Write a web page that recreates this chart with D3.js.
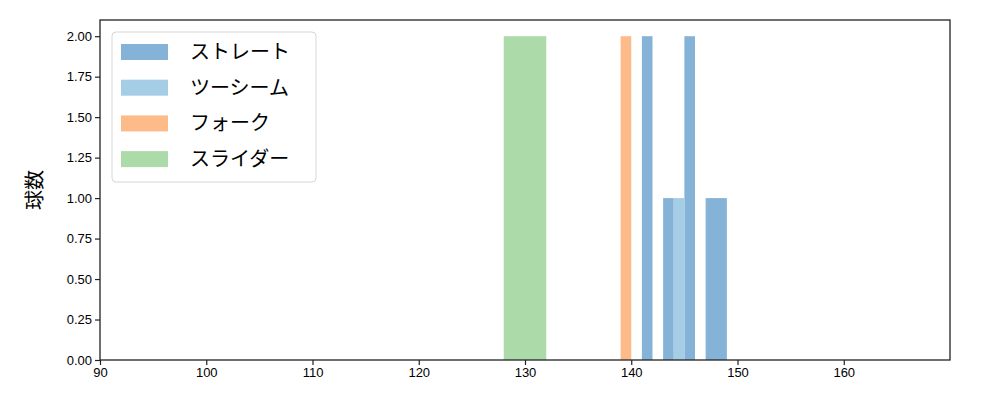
<!DOCTYPE html>
<html>
<head>
<meta charset="utf-8">
<script src="https://cdn.jsdelivr.net/npm/d3@7"></script>
<style>
  body { margin: 0; background: #fff; }
  svg { display: block; font-family: "Noto Sans CJK JP", "DejaVu Sans", sans-serif; }
</style>
</head>
<body>
<div id="plot"></div>
<script>
// pitch types and colours
const pitchNames = ["ストレート", "ツーシーム", "フォーク", "スライダー"];
const pitchColors = ["#85b3d7", "#a6cde6", "#fdbb8a", "#addaa9"];

// histogram bins per pitch: [x0, x1, count]
const straightBins = [[141, 142, 2], [143, 144, 1], [145, 146, 2], [147, 149, 1]];
const twoSeamBins = [[144, 145, 1]];
const forkBins = [[139, 140, 2]];
const sliderBins = [[128, 132, 2]];

const xTicks = [90, 100, 110, 120, 130, 140, 150, 160];
const yTicks = [0, 0.25, 0.5, 0.75, 1.0, 1.25, 1.5, 1.75, 2.0];

const width = 1000;
const height = 400;
const marginTop = 20;
const marginRight = 50;
const marginBottom = 40;
const marginLeft = 100;

const x = d3.scaleLinear()
  .domain([90, 170])
  .range([marginLeft, width - marginRight]);

const y = d3.scaleLinear()
  .domain([0, 2.1])
  .range([height - marginBottom, marginTop]);

const svg = d3.create("svg")
  .attr("width", width)
  .attr("height", height)
  .attr("viewBox", [0, 0, width, height]);

// bars, drawn in the same order as the legend
const allBins = [straightBins, twoSeamBins, forkBins, sliderBins];
allBins.forEach((bins, i) => {
  svg.append("g")
    .selectAll("rect")
    .data(bins)
    .join("rect")
      .attr("x", d => x(d[0]))
      .attr("width", d => x(d[1]) - x(d[0]))
      .attr("y", d => y(d[2]))
      .attr("height", d => y(0) - y(d[2]))
      .attr("fill", pitchColors[i]);
});

// axes
const xAxis = svg.append("g")
  .attr("transform", `translate(0,${height - marginBottom})`)
  .call(d3.axisBottom(x).tickValues(xTicks).tickSize(5).tickPadding(3).tickSizeOuter(0));

const yAxis = svg.append("g")
  .attr("transform", `translate(${marginLeft},0)`)
  .call(d3.axisLeft(y).tickValues(yTicks).tickFormat(d3.format(".2f")).tickSize(5).tickPadding(3).tickSizeOuter(0));

[xAxis, yAxis].forEach(a => {
  a.selectAll("text").style("font-size", "13px").attr("fill", "#000");
  a.selectAll("line").attr("stroke", "#222").attr("stroke-width", 1.2);
  a.select(".domain").remove();
});

// frame
svg.append("rect")
  .attr("x", marginLeft)
  .attr("y", marginTop)
  .attr("width", width - marginLeft - marginRight)
  .attr("height", height - marginTop - marginBottom)
  .attr("fill", "none")
  .attr("stroke", "#222")
  .attr("stroke-width", 1.3);

// y label
svg.append("text")
  .attr("transform", `translate(35,${(marginTop + height - marginBottom) / 2}) rotate(-90)`)
  .attr("text-anchor", "middle")
  .attr("dy", "0.35em")
  .style("font-size", "20px")
  .text("球数");

// legend
const legend = svg.append("g").attr("transform", "translate(112,32)");
legend.append("rect")
  .attr("width", 204)
  .attr("height", 150)
  .attr("rx", 4)
  .attr("fill", "#fff")
  .attr("fill-opacity", 0.8)
  .attr("stroke", "#d6d6d6");

pitchNames.forEach((name, i) => {
  const row = legend.append("g").attr("transform", `translate(0,${20 + i * 35.7})`);
  row.append("rect")
    .attr("x", 9)
    .attr("y", -8)
    .attr("width", 47)
    .attr("height", 16)
    .attr("fill", pitchColors[i]);
  row.append("text")
    .attr("x", 78)
    .attr("dy", "0.35em")
    .style("font-size", "20px")
    .text(name);
});

document.querySelector("#plot").append(svg.node());
</script>
</body>
</html>
